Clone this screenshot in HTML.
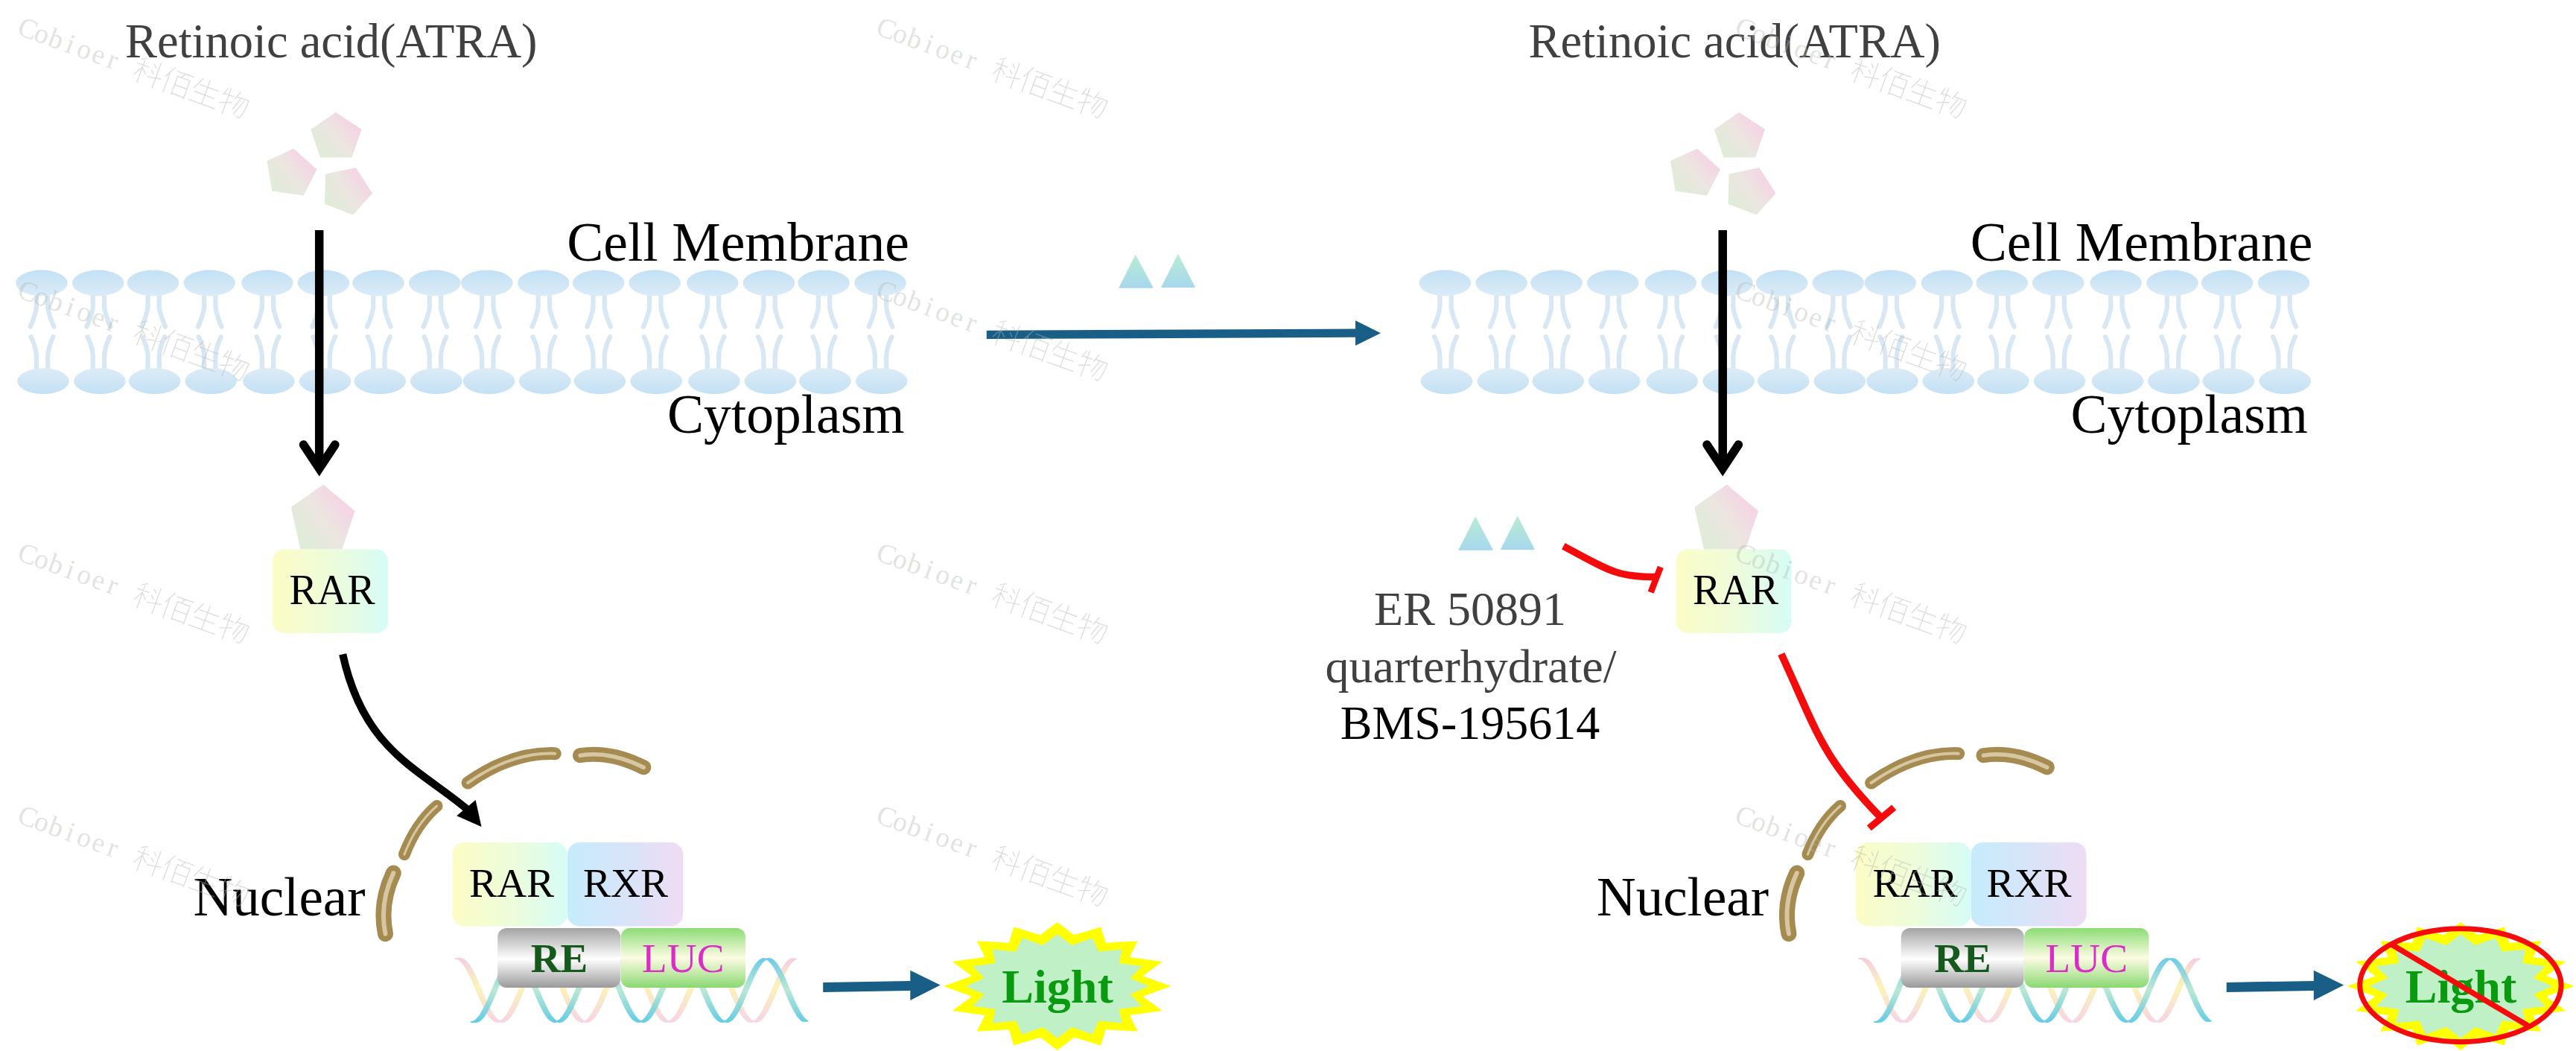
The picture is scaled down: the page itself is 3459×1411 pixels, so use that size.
<!DOCTYPE html>
<html><head><meta charset="utf-8"><style>
html,body{margin:0;padding:0;background:#fff;}
body{width:3459px;height:1411px;overflow:hidden;}
svg{display:block;}
</style></head><body>
<svg width="3459" height="1411" viewBox="0 0 3459 1411">
<defs>
<linearGradient id="gHeadTop" x1="0" y1="0" x2="0" y2="1"><stop offset="0" stop-color="#c3e1f4"/><stop offset="1" stop-color="#dcebf7"/></linearGradient>
<linearGradient id="gHeadBot" x1="0" y1="0" x2="0" y2="1"><stop offset="0" stop-color="#dcebf7"/><stop offset="1" stop-color="#c3e1f4"/></linearGradient>
<linearGradient id="gPent" x1="0" y1="0.85" x2="1" y2="0.15"><stop offset="0" stop-color="#ddeed6"/><stop offset="0.5" stop-color="#ece5e1"/><stop offset="1" stop-color="#f9cce6"/></linearGradient>
<linearGradient id="gTri" x1="0" y1="0" x2="0" y2="1"><stop offset="0" stop-color="#b9ecd2"/><stop offset="1" stop-color="#a6d8ee"/></linearGradient>
<linearGradient id="gRAR" x1="0" y1="0" x2="1" y2="0"><stop offset="0" stop-color="#fcfcc6"/><stop offset="0.5" stop-color="#eefcda"/><stop offset="1" stop-color="#d6fcf6"/></linearGradient>
<linearGradient id="gRXR" x1="0" y1="0" x2="1" y2="0"><stop offset="0" stop-color="#c6ecfc"/><stop offset="0.5" stop-color="#d8e4f8"/><stop offset="1" stop-color="#eedcf4"/></linearGradient>
<linearGradient id="gRE" x1="0" y1="0" x2="0" y2="1"><stop offset="0" stop-color="#a4a4a4"/><stop offset="0.52" stop-color="#ffffff"/><stop offset="1" stop-color="#9a9a9a"/></linearGradient>
<linearGradient id="gLUC" x1="0" y1="0" x2="0" y2="1"><stop offset="0" stop-color="#8cdc76"/><stop offset="0.5" stop-color="#fcfce2"/><stop offset="1" stop-color="#8ad872"/></linearGradient>
<linearGradient id="gDNA1" gradientUnits="userSpaceOnUse" x1="0" y1="1285" x2="0" y2="1373"><stop offset="0" stop-color="#f4c4de"/><stop offset="0.45" stop-color="#fbf2ac"/><stop offset="1" stop-color="#f6cce2"/></linearGradient>
<linearGradient id="gDNA2" gradientUnits="userSpaceOnUse" x1="0" y1="1285" x2="0" y2="1373"><stop offset="0" stop-color="#5cc4e8"/><stop offset="0.5" stop-color="#b4e6d0"/><stop offset="1" stop-color="#52c6e4"/></linearGradient>
<g id="panel"><text x="168" y="76.5" font-family="Liberation Serif" font-size="64.5" fill="#404040">Retinoic acid(ATRA)</text><polygon points="450.8,150.7 485.5,173.8 472.5,211.5 429.9,211.5 417.4,173.8" fill="url(#gPent)" /><polygon points="394.5,199.4 425.4,227.5 407.5,262.5 365.2,256.5 358.4,216.1" fill="url(#gPent)" /><polygon points="477.9,225.2 500,259.5 474.1,288.4 436,274 437.1,233.6" fill="url(#gPent)" /><path d="M48.9 397 L48.9 413 Q46.9 425 40.7 438.6 M64.2 397 L64.2 413 Q66.2 425 72.4 438.6 M41.6 452.2 Q47.9 465 48.9 477 L48.9 494.6 M71.5 452.2 Q65.2 465 64.2 477 L64.2 494.6 M124.8 397 L124.8 413 Q122.8 425 116.5 438.6 M140.1 397 L140.1 413 Q142.1 425 148.2 438.6 M117.5 452.2 Q123.8 465 124.8 477 L124.8 494.6 M147.4 452.2 Q141.1 465 140.1 477 L140.1 494.6 M198.5 397 L198.5 413 Q196.5 425 190.3 438.6 M213.8 397 L213.8 413 Q215.8 425 222 438.6 M191.2 452.2 Q197.5 465 198.5 477 L198.5 494.6 M221.2 452.2 Q214.8 465 213.8 477 L213.8 494.6 M274.2 397 L274.2 413 Q272.2 425 266 438.6 M289.4 397 L289.4 413 Q291.4 425 297.6 438.6 M266.9 452.2 Q273.2 465 274.2 477 L274.2 494.6 M296.8 452.2 Q290.4 465 289.4 477 L289.4 494.6 M351.8 397 L351.8 413 Q349.8 425 343.6 438.6 M367.1 397 L367.1 413 Q369.1 425 375.3 438.6 M344.5 452.2 Q350.8 465 351.8 477 L351.8 494.6 M374.4 452.2 Q368.1 465 367.1 477 L367.1 494.6 M427.5 397 L427.5 413 Q425.5 425 419.3 438.6 M442.8 397 L442.8 413 Q444.8 425 451 438.6 M420.2 452.2 Q426.5 465 427.5 477 L427.5 494.6 M450.1 452.2 Q443.8 465 442.8 477 L442.8 494.6 M501.2 397 L501.2 413 Q499.2 425 493 438.6 M516.5 397 L516.5 413 Q518.5 425 524.7 438.6 M493.9 452.2 Q500.2 465 501.2 477 L501.2 494.6 M523.8 452.2 Q517.5 465 516.5 477 L516.5 494.6 M576.8 397 L576.8 413 Q574.8 425 568.5 438.6 M592 397 L592 413 Q594 425 600.2 438.6 M569.5 452.2 Q575.8 465 576.8 477 L576.8 494.6 M599.3 452.2 Q593 465 592 477 L592 494.6 M647.1 397 L647.1 413 Q645.1 425 638.9 438.6 M662.4 397 L662.4 413 Q664.4 425 670.6 438.6 M639.8 452.2 Q646.1 465 647.1 477 L647.1 494.6 M669.7 452.2 Q663.4 465 662.4 477 L662.4 494.6 M722.7 397 L722.7 413 Q720.7 425 714.5 438.6 M738 397 L738 413 Q740 425 746.2 438.6 M715.4 452.2 Q721.7 465 722.7 477 L722.7 494.6 M745.3 452.2 Q739 465 738 477 L738 494.6 M796.5 397 L796.5 413 Q794.5 425 788.3 438.6 M811.8 397 L811.8 413 Q813.8 425 820 438.6 M789.2 452.2 Q795.5 465 796.5 477 L796.5 494.6 M819.1 452.2 Q812.8 465 811.8 477 L811.8 494.6 M872.1 397 L872.1 413 Q870.1 425 863.9 438.6 M887.4 397 L887.4 413 Q889.4 425 895.6 438.6 M864.8 452.2 Q871.1 465 872.1 477 L872.1 494.6 M894.7 452.2 Q888.4 465 887.4 477 L887.4 494.6 M949.8 397 L949.8 413 Q947.8 425 941.6 438.6 M965.1 397 L965.1 413 Q967.1 425 973.3 438.6 M942.5 452.2 Q948.8 465 949.8 477 L949.8 494.6 M972.4 452.2 Q966.1 465 965.1 477 L965.1 494.6 M1025.4 397 L1025.4 413 Q1023.4 425 1017.2 438.6 M1040.7 397 L1040.7 413 Q1042.7 425 1048.9 438.6 M1018.1 452.2 Q1024.4 465 1025.4 477 L1025.4 494.6 M1048 452.2 Q1041.7 465 1040.7 477 L1040.7 494.6 M1098.9 397 L1098.9 413 Q1096.9 425 1090.7 438.6 M1114.2 397 L1114.2 413 Q1116.2 425 1122.5 438.6 M1091.6 452.2 Q1097.9 465 1098.9 477 L1098.9 494.6 M1121.5 452.2 Q1115.2 465 1114.2 477 L1114.2 494.6 M1174.9 397 L1174.9 413 Q1172.9 425 1166.7 438.6 M1190.2 397 L1190.2 413 Q1192.2 425 1198.4 438.6 M1167.6 452.2 Q1173.9 465 1174.9 477 L1174.9 494.6 M1197.5 452.2 Q1191.2 465 1190.2 477 L1190.2 494.6" fill="none" stroke="#d8e7f4" stroke-width="6.2" stroke-linecap="round"/><ellipse cx="55.9" cy="380" rx="34.8" ry="17.4" fill="url(#gHeadTop)"/><ellipse cx="131.7" cy="380" rx="34.8" ry="17.4" fill="url(#gHeadTop)"/><ellipse cx="205.5" cy="380" rx="34.8" ry="17.4" fill="url(#gHeadTop)"/><ellipse cx="281.2" cy="380" rx="34.8" ry="17.4" fill="url(#gHeadTop)"/><ellipse cx="358.9" cy="380" rx="34.8" ry="17.4" fill="url(#gHeadTop)"/><ellipse cx="434.5" cy="380" rx="34.8" ry="17.4" fill="url(#gHeadTop)"/><ellipse cx="508.1" cy="380" rx="34.8" ry="17.4" fill="url(#gHeadTop)"/><ellipse cx="583.8" cy="380" rx="34.8" ry="17.4" fill="url(#gHeadTop)"/><ellipse cx="653.8" cy="380" rx="34.8" ry="17.4" fill="url(#gHeadTop)"/><ellipse cx="729.8" cy="380" rx="34.8" ry="17.4" fill="url(#gHeadTop)"/><ellipse cx="803.7" cy="380" rx="34.8" ry="17.4" fill="url(#gHeadTop)"/><ellipse cx="879.2" cy="380" rx="34.8" ry="17.4" fill="url(#gHeadTop)"/><ellipse cx="956.7" cy="380" rx="34.8" ry="17.4" fill="url(#gHeadTop)"/><ellipse cx="1032.5" cy="380" rx="34.8" ry="17.4" fill="url(#gHeadTop)"/><ellipse cx="1106.1" cy="380" rx="34.8" ry="17.4" fill="url(#gHeadTop)"/><ellipse cx="1182.1" cy="380" rx="34.8" ry="17.4" fill="url(#gHeadTop)"/><ellipse cx="58" cy="511.7" rx="34.8" ry="17.4" fill="url(#gHeadBot)"/><ellipse cx="133.9" cy="511.7" rx="34.8" ry="17.4" fill="url(#gHeadBot)"/><ellipse cx="207.7" cy="511.7" rx="34.8" ry="17.4" fill="url(#gHeadBot)"/><ellipse cx="283.2" cy="511.7" rx="34.8" ry="17.4" fill="url(#gHeadBot)"/><ellipse cx="360.8" cy="511.7" rx="34.8" ry="17.4" fill="url(#gHeadBot)"/><ellipse cx="436.6" cy="511.7" rx="34.8" ry="17.4" fill="url(#gHeadBot)"/><ellipse cx="510.3" cy="511.7" rx="34.8" ry="17.4" fill="url(#gHeadBot)"/><ellipse cx="585.8" cy="511.7" rx="34.8" ry="17.4" fill="url(#gHeadBot)"/><ellipse cx="656.5" cy="511.7" rx="34.8" ry="17.4" fill="url(#gHeadBot)"/><ellipse cx="731.7" cy="511.7" rx="34.8" ry="17.4" fill="url(#gHeadBot)"/><ellipse cx="805.4" cy="511.7" rx="34.8" ry="17.4" fill="url(#gHeadBot)"/><ellipse cx="881.1" cy="511.7" rx="34.8" ry="17.4" fill="url(#gHeadBot)"/><ellipse cx="959" cy="511.7" rx="34.8" ry="17.4" fill="url(#gHeadBot)"/><ellipse cx="1034.4" cy="511.7" rx="34.8" ry="17.4" fill="url(#gHeadBot)"/><ellipse cx="1107.9" cy="511.7" rx="34.8" ry="17.4" fill="url(#gHeadBot)"/><ellipse cx="1183.8" cy="511.7" rx="34.8" ry="17.4" fill="url(#gHeadBot)"/><text x="1221" y="350" text-anchor="end" font-family="Liberation Serif" font-size="73.6" fill="#000">Cell Membrane</text><text x="1214.5" y="581" text-anchor="end" font-family="Liberation Serif" font-size="73.5" fill="#000">Cytoplasm</text><path d="M428.7 309 L428.7 629" stroke="#000" stroke-width="11.5" fill="none"/><path d="M407.5 597 L428.7 629 L449.9 597" stroke="#000" stroke-width="11.5" fill="none" stroke-linecap="round" stroke-linejoin="miter"/><polygon points="434.2,650.6 476.5,686 459.4,737.4 403.4,737.4 390.8,680.7" fill="url(#gPent)" /><rect x="366" y="737.5" width="155" height="112.5" rx="16" fill="url(#gRAR)"/><text x="446" y="810.5" text-anchor="middle" font-family="Liberation Serif" font-size="56" fill="#000">RAR</text><path d="M628.1 1051 Q686.55 1009.65 745.2 1011.7" fill="none" stroke="#a68b51" stroke-width="17" stroke-linecap="round"/><path d="M779 1014.2 Q819.6 1007.75 864.3 1030.3" fill="none" stroke="#a68b51" stroke-width="20" stroke-linecap="round"/><path d="M586.6 1082 Q558.65 1106.05 542.9 1147.1" fill="none" stroke="#a68b51" stroke-width="16" stroke-linecap="round"/><path d="M528.3 1172 Q509.1 1213.15 517.5 1253.7" fill="none" stroke="#a68b51" stroke-width="21" stroke-linecap="round"/><path d="M628.1 1051 Q686.55 1009.65 745.2 1011.7" fill="none" stroke="#d6c7a2" stroke-width="4" stroke-linecap="round"/><path d="M779 1014.2 Q819.6 1007.75 864.3 1030.3" fill="none" stroke="#d6c7a2" stroke-width="5.5" stroke-linecap="round"/><path d="M586.6 1082 Q558.65 1106.05 542.9 1147.1" fill="none" stroke="#d6c7a2" stroke-width="3" stroke-linecap="round"/><path d="M528.3 1172 Q509.1 1213.15 517.5 1253.7" fill="none" stroke="#d6c7a2" stroke-width="6" stroke-linecap="round"/><text x="490.5" y="1228.5" text-anchor="end" font-family="Liberation Serif" font-size="73" fill="#000">Nuclear</text><rect x="607.5" y="1131" width="154" height="112.5" rx="16" fill="url(#gRAR)"/><rect x="762" y="1131" width="155" height="112.5" rx="16" fill="url(#gRXR)"/><text x="687" y="1204" text-anchor="middle" font-family="Liberation Serif" font-size="55.5" fill="#000">RAR</text><text x="840" y="1204" text-anchor="middle" font-family="Liberation Serif" font-size="55.5" fill="#000">RXR</text><polygon points="611.5,1287 613,1287.1 614.5,1287.6 616,1288.3 617.5,1289.3 619,1290.6 620.5,1292.2 622,1294 623.5,1296.1 625,1298.3 626.5,1300.9 628,1303.6 629.5,1306.4 631,1309.5 632.5,1312.7 634,1316 635.5,1319.4 637,1322.8 638.5,1326.3 640,1329.9 641.5,1333.4 643,1336.9 644.5,1340.3 646,1343.7 647.5,1347 649,1350.1 650.5,1353.1 652,1356 653.5,1358.7 655,1361.1 656.5,1363.4 658,1365.4 659.5,1367.2 661,1368.7 662.5,1369.9 664,1370.9 665.5,1371.5 667,1371.9 668.5,1372 670,1371.8 671.5,1371.3 673,1370.5 674.5,1369.4 676,1368.1 677.5,1366.5 679,1364.6 680.5,1362.5 682,1360.2 683.5,1357.6 685,1354.9 686.5,1352 688,1348.9 689.5,1345.7 691,1342.4 692.5,1339 694,1335.5 695.5,1332 697,1328.4 698.5,1324.9 700,1321.4 701.5,1318 703,1314.6 704.5,1311.4 706,1308.2 707.5,1305.3 709,1302.5 710.5,1299.8 712,1297.4 713.5,1295.2 715,1293.2 716.5,1291.5 718,1290.1 719.5,1288.9 721,1288 722.5,1287.4 724,1287.1 725.5,1287 727,1287.3 728.5,1287.8 730,1288.7 731.5,1289.8 733,1291.2 734.5,1292.9 736,1294.8 737.5,1296.9 739,1299.3 740.5,1301.9 742,1304.7 743.5,1307.6 745,1310.7 746.5,1314 748,1317.3 749.5,1320.7 751,1324.2 752.5,1327.7 754,1331.3 755.5,1334.8 757,1338.3 758.5,1341.7 760,1345 761.5,1348.3 763,1351.4 764.5,1354.3 766,1357.1 767.5,1359.7 769,1362.1 770.5,1364.2 772,1366.1 773.5,1367.8 775,1369.2 776.5,1370.3 778,1371.2 779.5,1371.7 781,1372 782.5,1371.9 784,1371.6 785.5,1371 787,1370.1 788.5,1368.9 790,1367.5 791.5,1365.8 793,1363.8 794.5,1361.6 796,1359.2 797.5,1356.5 799,1353.7 800.5,1350.8 802,1347.6 803.5,1344.4 805,1341 806.5,1337.6 808,1334.1 809.5,1330.6 811,1327 812.5,1323.5 814,1320 815.5,1316.6 817,1313.3 818.5,1310.1 820,1307 821.5,1304.1 823,1301.4 824.5,1298.8 826,1296.5 827.5,1294.4 829,1292.5 830.5,1290.9 832,1289.6 833.5,1288.5 835,1287.7 836.5,1287.2 838,1287 839.5,1287.1 841,1287.5 842.5,1288.1 844,1289.1 845.5,1290.3 847,1291.8 848.5,1293.6 850,1295.6 851.5,1297.9 853,1300.3 854.5,1303 856,1305.9 857.5,1308.9 859,1312 860.5,1315.3 862,1318.7 863.5,1322.1 865,1325.6 866.5,1329.1 868,1332.7 869.5,1336.2 871,1339.6 872.5,1343 874,1346.3 875.5,1349.5 877,1352.6 878.5,1355.4 880,1358.1 881.5,1360.7 883,1362.9 884.5,1365 886,1366.8 887.5,1368.4 889,1369.7 890.5,1370.7 892,1371.4 893.5,1371.9 895,1372 896.5,1371.9 898,1371.4 899.5,1370.7 901,1369.7 902.5,1368.4 904,1366.8 905.5,1365 907,1362.9 908.5,1360.7 910,1358.1 911.5,1355.4 913,1352.6 914.5,1349.5 916,1346.3 917.5,1343 919,1339.6 920.5,1336.2 922,1332.7 923.5,1329.1 925,1325.6 926.5,1322.1 928,1318.7 929.5,1315.3 931,1312 932.5,1308.9 934,1305.9 935.5,1303 937,1300.3 938.5,1297.9 940,1295.6 941.5,1293.6 943,1291.8 944.5,1290.3 946,1289.1 947.5,1288.1 949,1287.5 950.5,1287.1 952,1287 953.5,1287.2 955,1287.7 956.5,1288.5 958,1289.6 959.5,1290.9 961,1292.5 962.5,1294.4 964,1296.5 965.5,1298.8 967,1301.4 968.5,1304.1 970,1307 971.5,1310.1 973,1313.3 974.5,1316.6 976,1320 977.5,1323.5 979,1327 980.5,1330.6 982,1334.1 983.5,1337.6 985,1341 986.5,1344.4 988,1347.6 989.5,1350.8 991,1353.7 992.5,1356.5 994,1359.2 995.5,1361.6 997,1363.8 998.5,1365.8 1000,1367.5 1001.5,1368.9 1003,1370.1 1004.5,1371 1006,1371.6 1007.5,1371.9 1009,1372 1010.5,1371.7 1012,1371.2 1013.5,1370.3 1015,1369.2 1016.5,1367.8 1018,1366.1 1019.5,1364.2 1021,1362.1 1022.5,1359.7 1024,1357.1 1025.5,1354.3 1027,1351.4 1028.5,1348.3 1030,1345 1031.5,1341.7 1033,1338.3 1034.5,1334.8 1036,1331.3 1037.5,1327.7 1039,1324.2 1040.5,1320.7 1042,1317.3 1043.5,1314 1045,1310.7 1046.5,1307.6 1048,1304.7 1049.5,1301.9 1051,1299.3 1052.5,1296.9 1054,1294.8 1055.5,1292.9 1057,1291.2 1058.5,1289.8 1060,1288.7 1061.5,1287.8 1063,1287.3 1069.5,1287.3 1068,1287.8 1066.5,1288.7 1065,1289.8 1063.5,1291.2 1062,1292.9 1060.5,1294.8 1059,1296.9 1057.5,1299.3 1056,1301.9 1054.5,1304.7 1053,1307.6 1051.5,1310.7 1050,1314 1048.5,1317.3 1047,1320.7 1045.5,1324.2 1044,1327.7 1042.5,1331.3 1041,1334.8 1039.5,1338.3 1038,1341.7 1036.5,1345 1035,1348.3 1033.5,1351.4 1032,1354.3 1030.5,1357.1 1029,1359.7 1027.5,1362.1 1026,1364.2 1024.5,1366.1 1023,1367.8 1021.5,1369.2 1020,1370.3 1018.5,1371.2 1017,1371.7 1015.5,1372 1014,1371.9 1012.5,1371.6 1011,1371 1009.5,1370.1 1008,1368.9 1006.5,1367.5 1005,1365.8 1003.5,1363.8 1002,1361.6 1000.5,1359.2 999,1356.5 997.5,1353.7 996,1350.8 994.5,1347.6 993,1344.4 991.5,1341 990,1337.6 988.5,1334.1 987,1330.6 985.5,1327 984,1323.5 982.5,1320 981,1316.6 979.5,1313.3 978,1310.1 976.5,1307 975,1304.1 973.5,1301.4 972,1298.8 970.5,1296.5 969,1294.4 967.5,1292.5 966,1290.9 964.5,1289.6 963,1288.5 961.5,1287.7 960,1287.2 958.5,1287 957,1287.1 955.5,1287.5 954,1288.1 952.5,1289.1 951,1290.3 949.5,1291.8 948,1293.6 946.5,1295.6 945,1297.9 943.5,1300.3 942,1303 940.5,1305.9 939,1308.9 937.5,1312 936,1315.3 934.5,1318.7 933,1322.1 931.5,1325.6 930,1329.1 928.5,1332.7 927,1336.2 925.5,1339.6 924,1343 922.5,1346.3 921,1349.5 919.5,1352.6 918,1355.4 916.5,1358.1 915,1360.7 913.5,1362.9 912,1365 910.5,1366.8 909,1368.4 907.5,1369.7 906,1370.7 904.5,1371.4 903,1371.9 901.5,1372 900,1371.9 898.5,1371.4 897,1370.7 895.5,1369.7 894,1368.4 892.5,1366.8 891,1365 889.5,1362.9 888,1360.7 886.5,1358.1 885,1355.4 883.5,1352.6 882,1349.5 880.5,1346.3 879,1343 877.5,1339.6 876,1336.2 874.5,1332.7 873,1329.1 871.5,1325.6 870,1322.1 868.5,1318.7 867,1315.3 865.5,1312 864,1308.9 862.5,1305.9 861,1303 859.5,1300.3 858,1297.9 856.5,1295.6 855,1293.6 853.5,1291.8 852,1290.3 850.5,1289.1 849,1288.1 847.5,1287.5 846,1287.1 844.5,1287 843,1287.2 841.5,1287.7 840,1288.5 838.5,1289.6 837,1290.9 835.5,1292.5 834,1294.4 832.5,1296.5 831,1298.8 829.5,1301.4 828,1304.1 826.5,1307 825,1310.1 823.5,1313.3 822,1316.6 820.5,1320 819,1323.5 817.5,1327 816,1330.6 814.5,1334.1 813,1337.6 811.5,1341 810,1344.4 808.5,1347.6 807,1350.8 805.5,1353.7 804,1356.5 802.5,1359.2 801,1361.6 799.5,1363.8 798,1365.8 796.5,1367.5 795,1368.9 793.5,1370.1 792,1371 790.5,1371.6 789,1371.9 787.5,1372 786,1371.7 784.5,1371.2 783,1370.3 781.5,1369.2 780,1367.8 778.5,1366.1 777,1364.2 775.5,1362.1 774,1359.7 772.5,1357.1 771,1354.3 769.5,1351.4 768,1348.3 766.5,1345 765,1341.7 763.5,1338.3 762,1334.8 760.5,1331.3 759,1327.7 757.5,1324.2 756,1320.7 754.5,1317.3 753,1314 751.5,1310.7 750,1307.6 748.5,1304.7 747,1301.9 745.5,1299.3 744,1296.9 742.5,1294.8 741,1292.9 739.5,1291.2 738,1289.8 736.5,1288.7 735,1287.8 733.5,1287.3 732,1287 730.5,1287.1 729,1287.4 727.5,1288 726,1288.9 724.5,1290.1 723,1291.5 721.5,1293.2 720,1295.2 718.5,1297.4 717,1299.8 715.5,1302.5 714,1305.3 712.5,1308.2 711,1311.4 709.5,1314.6 708,1318 706.5,1321.4 705,1324.9 703.5,1328.4 702,1332 700.5,1335.5 699,1339 697.5,1342.4 696,1345.7 694.5,1348.9 693,1352 691.5,1354.9 690,1357.6 688.5,1360.2 687,1362.5 685.5,1364.6 684,1366.5 682.5,1368.1 681,1369.4 679.5,1370.5 678,1371.3 676.5,1371.8 675,1372 673.5,1371.9 672,1371.5 670.5,1370.9 669,1369.9 667.5,1368.7 666,1367.2 664.5,1365.4 663,1363.4 661.5,1361.1 660,1358.7 658.5,1356 657,1353.1 655.5,1350.1 654,1347 652.5,1343.7 651,1340.3 649.5,1336.9 648,1333.4 646.5,1329.9 645,1326.3 643.5,1322.8 642,1319.4 640.5,1316 639,1312.7 637.5,1309.5 636,1306.4 634.5,1303.6 633,1300.9 631.5,1298.3 630,1296.1 628.5,1294 627,1292.2 625.5,1290.6 624,1289.3 622.5,1288.3 621,1287.6 619.5,1287.1 618,1287" fill="url(#gDNA1)" stroke="url(#gDNA1)" stroke-width="1.8" stroke-linejoin="round" opacity="0.85"/><polygon points="632.5,1372 634,1371.9 635.5,1371.4 637,1370.7 638.5,1369.6 640,1368.3 641.5,1366.7 643,1364.9 644.5,1362.8 646,1360.5 647.5,1357.9 649,1355.2 650.5,1352.2 652,1349.2 653.5,1345.9 655,1342.6 656.5,1339.2 658,1335.7 659.5,1332.1 661,1328.5 662.5,1325 664,1321.5 665.5,1318 667,1314.6 668.5,1311.3 670,1308.2 671.5,1305.2 673,1302.3 674.5,1299.7 676,1297.3 677.5,1295.1 679,1293.1 680.5,1291.4 682,1289.9 683.5,1288.8 685,1287.9 686.5,1287.3 688,1287 689.5,1287 691,1287.4 692.5,1288 694,1288.9 695.5,1290 697,1291.5 698.5,1293.2 700,1295.2 701.5,1297.4 703,1299.9 704.5,1302.5 706,1305.4 707.5,1308.4 709,1311.6 710.5,1314.8 712,1318.2 713.5,1321.7 715,1325.2 716.5,1328.8 718,1332.3 719.5,1335.9 721,1339.4 722.5,1342.8 724,1346.1 725.5,1349.4 727,1352.4 728.5,1355.4 730,1358.1 731.5,1360.6 733,1362.9 734.5,1365 736,1366.8 737.5,1368.4 739,1369.7 740.5,1370.7 742,1371.4 743.5,1371.9 745,1372 746.5,1371.8 748,1371.4 749.5,1370.6 751,1369.6 752.5,1368.2 754,1366.6 755.5,1364.8 757,1362.6 758.5,1360.3 760,1357.7 761.5,1355 763,1352 764.5,1348.9 766,1345.7 767.5,1342.4 769,1338.9 770.5,1335.4 772,1331.9 773.5,1328.3 775,1324.8 776.5,1321.2 778,1317.8 779.5,1314.4 781,1311.1 782.5,1308 784,1305 785.5,1302.2 787,1299.5 788.5,1297.1 790,1294.9 791.5,1293 793,1291.3 794.5,1289.9 796,1288.7 797.5,1287.9 799,1287.3 800.5,1287 802,1287.1 803.5,1287.4 805,1288 806.5,1288.9 808,1290.1 809.5,1291.6 811,1293.3 812.5,1295.3 814,1297.6 815.5,1300 817,1302.7 818.5,1305.6 820,1308.6 821.5,1311.8 823,1315.1 824.5,1318.5 826,1321.9 827.5,1325.5 829,1329 830.5,1332.6 832,1336.1 833.5,1339.6 835,1343 836.5,1346.4 838,1349.6 839.5,1352.6 841,1355.5 842.5,1358.3 844,1360.8 845.5,1363.1 847,1365.1 848.5,1367 850,1368.5 851.5,1369.8 853,1370.8 854.5,1371.5 856,1371.9 857.5,1372 859,1371.8 860.5,1371.3 862,1370.5 863.5,1369.5 865,1368.1 866.5,1366.5 868,1364.6 869.5,1362.5 871,1360.1 872.5,1357.6 874,1354.8 875.5,1351.8 877,1348.7 878.5,1345.5 880,1342.1 881.5,1338.7 883,1335.2 884.5,1331.6 886,1328.1 887.5,1324.5 889,1321 890.5,1317.5 892,1314.2 893.5,1310.9 895,1307.8 896.5,1304.8 898,1302 899.5,1299.4 901,1297 902.5,1294.8 904,1292.9 905.5,1291.2 907,1289.8 908.5,1288.6 910,1287.8 911.5,1287.3 913,1287 914.5,1287.1 916,1287.4 917.5,1288.1 919,1289 920.5,1290.2 922,1291.7 923.5,1293.5 925,1295.5 926.5,1297.7 928,1300.2 929.5,1302.9 931,1305.8 932.5,1308.8 934,1312 935.5,1315.3 937,1318.7 938.5,1322.2 940,1325.7 941.5,1329.3 943,1332.8 944.5,1336.4 946,1339.8 947.5,1343.3 949,1346.6 950.5,1349.8 952,1352.8 953.5,1355.7 955,1358.4 956.5,1360.9 958,1363.2 959.5,1365.3 961,1367.1 962.5,1368.6 964,1369.9 965.5,1370.8 967,1371.5 968.5,1371.9 970,1372 971.5,1371.8 973,1371.3 974.5,1370.5 976,1369.4 977.5,1368 979,1366.4 980.5,1364.5 982,1362.3 983.5,1360 985,1357.4 986.5,1354.6 988,1351.6 989.5,1348.5 991,1345.3 992.5,1341.9 994,1338.5 995.5,1334.9 997,1331.4 998.5,1327.8 1000,1324.3 1001.5,1320.8 1003,1317.3 1004.5,1314 1006,1310.7 1007.5,1307.6 1009,1304.6 1010.5,1301.8 1012,1299.2 1013.5,1296.8 1015,1294.6 1016.5,1292.7 1018,1291.1 1019.5,1289.7 1021,1288.6 1022.5,1287.8 1024,1287.2 1025.5,1287 1027,1287.1 1028.5,1287.4 1030,1288.1 1031.5,1289.1 1033,1290.3 1034.5,1291.8 1036,1293.6 1037.5,1295.6 1039,1297.9 1040.5,1300.4 1042,1303.1 1043.5,1306 1045,1309 1046.5,1312.2 1048,1315.5 1049.5,1318.9 1051,1322.4 1052.5,1325.9 1054,1329.5 1055.5,1333.1 1057,1336.6 1058.5,1340.1 1060,1343.5 1061.5,1346.8 1063,1350 1064.5,1353 1066,1355.9 1067.5,1358.6 1069,1361.1 1070.5,1363.4 1072,1365.4 1073.5,1367.2 1075,1368.7 1076.5,1369.9 1078,1370.9 1084.5,1370.9 1083,1369.9 1081.5,1368.7 1080,1367.2 1078.5,1365.4 1077,1363.4 1075.5,1361.1 1074,1358.6 1072.5,1355.9 1071,1353 1069.5,1350 1068,1346.8 1066.5,1343.5 1065,1340.1 1063.5,1336.6 1062,1333.1 1060.5,1329.5 1059,1325.9 1057.5,1322.4 1056,1318.9 1054.5,1315.5 1053,1312.2 1051.5,1309 1050,1306 1048.5,1303.1 1047,1300.4 1045.5,1297.9 1044,1295.6 1042.5,1293.6 1041,1291.8 1039.5,1290.3 1038,1289.1 1036.5,1288.1 1035,1287.4 1033.5,1287.1 1032,1287 1030.5,1287.2 1029,1287.8 1027.5,1288.6 1026,1289.7 1024.5,1291.1 1023,1292.7 1021.5,1294.6 1020,1296.8 1018.5,1299.2 1017,1301.8 1015.5,1304.6 1014,1307.6 1012.5,1310.7 1011,1314 1009.5,1317.3 1008,1320.8 1006.5,1324.3 1005,1327.8 1003.5,1331.4 1002,1334.9 1000.5,1338.5 999,1341.9 997.5,1345.3 996,1348.5 994.5,1351.6 993,1354.6 991.5,1357.4 990,1360 988.5,1362.3 987,1364.5 985.5,1366.4 984,1368 982.5,1369.4 981,1370.5 979.5,1371.3 978,1371.8 976.5,1372 975,1371.9 973.5,1371.5 972,1370.8 970.5,1369.9 969,1368.6 967.5,1367.1 966,1365.3 964.5,1363.2 963,1360.9 961.5,1358.4 960,1355.7 958.5,1352.8 957,1349.8 955.5,1346.6 954,1343.3 952.5,1339.8 951,1336.4 949.5,1332.8 948,1329.3 946.5,1325.7 945,1322.2 943.5,1318.7 942,1315.3 940.5,1312 939,1308.8 937.5,1305.8 936,1302.9 934.5,1300.2 933,1297.7 931.5,1295.5 930,1293.5 928.5,1291.7 927,1290.2 925.5,1289 924,1288.1 922.5,1287.4 921,1287.1 919.5,1287 918,1287.3 916.5,1287.8 915,1288.6 913.5,1289.8 912,1291.2 910.5,1292.9 909,1294.8 907.5,1297 906,1299.4 904.5,1302 903,1304.8 901.5,1307.8 900,1310.9 898.5,1314.2 897,1317.5 895.5,1321 894,1324.5 892.5,1328.1 891,1331.6 889.5,1335.2 888,1338.7 886.5,1342.1 885,1345.5 883.5,1348.7 882,1351.8 880.5,1354.8 879,1357.6 877.5,1360.1 876,1362.5 874.5,1364.6 873,1366.5 871.5,1368.1 870,1369.5 868.5,1370.5 867,1371.3 865.5,1371.8 864,1372 862.5,1371.9 861,1371.5 859.5,1370.8 858,1369.8 856.5,1368.5 855,1367 853.5,1365.1 852,1363.1 850.5,1360.8 849,1358.3 847.5,1355.5 846,1352.6 844.5,1349.6 843,1346.4 841.5,1343 840,1339.6 838.5,1336.1 837,1332.6 835.5,1329 834,1325.5 832.5,1321.9 831,1318.5 829.5,1315.1 828,1311.8 826.5,1308.6 825,1305.6 823.5,1302.7 822,1300 820.5,1297.6 819,1295.3 817.5,1293.3 816,1291.6 814.5,1290.1 813,1288.9 811.5,1288 810,1287.4 808.5,1287.1 807,1287 805.5,1287.3 804,1287.9 802.5,1288.7 801,1289.9 799.5,1291.3 798,1293 796.5,1294.9 795,1297.1 793.5,1299.5 792,1302.2 790.5,1305 789,1308 787.5,1311.1 786,1314.4 784.5,1317.8 783,1321.2 781.5,1324.8 780,1328.3 778.5,1331.9 777,1335.4 775.5,1338.9 774,1342.4 772.5,1345.7 771,1348.9 769.5,1352 768,1355 766.5,1357.7 765,1360.3 763.5,1362.6 762,1364.8 760.5,1366.6 759,1368.2 757.5,1369.6 756,1370.6 754.5,1371.4 753,1371.8 751.5,1372 750,1371.9 748.5,1371.4 747,1370.7 745.5,1369.7 744,1368.4 742.5,1366.8 741,1365 739.5,1362.9 738,1360.6 736.5,1358.1 735,1355.4 733.5,1352.4 732,1349.4 730.5,1346.1 729,1342.8 727.5,1339.4 726,1335.9 724.5,1332.3 723,1328.8 721.5,1325.2 720,1321.7 718.5,1318.2 717,1314.8 715.5,1311.6 714,1308.4 712.5,1305.4 711,1302.5 709.5,1299.9 708,1297.4 706.5,1295.2 705,1293.2 703.5,1291.5 702,1290 700.5,1288.9 699,1288 697.5,1287.4 696,1287 694.5,1287 693,1287.3 691.5,1287.9 690,1288.8 688.5,1289.9 687,1291.4 685.5,1293.1 684,1295.1 682.5,1297.3 681,1299.7 679.5,1302.3 678,1305.2 676.5,1308.2 675,1311.3 673.5,1314.6 672,1318 670.5,1321.5 669,1325 667.5,1328.5 666,1332.1 664.5,1335.7 663,1339.2 661.5,1342.6 660,1345.9 658.5,1349.2 657,1352.2 655.5,1355.2 654,1357.9 652.5,1360.5 651,1362.8 649.5,1364.9 648,1366.7 646.5,1368.3 645,1369.6 643.5,1370.7 642,1371.4 640.5,1371.9 639,1372" fill="url(#gDNA2)" stroke="url(#gDNA2)" stroke-width="1.8" stroke-linejoin="round" opacity="0.9"/><rect x="668.2" y="1246.1" width="165" height="79.8" rx="12" fill="url(#gRE)"/><rect x="833.6" y="1246.1" width="167.4" height="79.8" rx="12" fill="url(#gLUC)"/><text x="751" y="1305" text-anchor="middle" font-family="Liberation Serif" font-weight="bold" font-size="55" fill="#155a1c">RE</text><text x="917.3" y="1305" text-anchor="middle" font-family="Liberation Serif" font-size="55.2" fill="#dc2cc8">LUC</text><polygon points="1105.2,1318.9 1222.3,1316.9 1222.3,1302.8 1262.7,1322.5 1222.3,1343.1 1222.3,1330 1105.2,1332" fill="#195e86" /><polygon points="1419.7,1238.1 1396.9,1255.3 1361.3,1244.6 1354.7,1265.8 1311.8,1263.3 1322.4,1285.1 1278.7,1291.1 1304.9,1310.3 1267.1,1324 1304.9,1337.7 1278.7,1356.9 1322.4,1362.9 1311.8,1384.7 1354.7,1382.2 1361.3,1403.4 1396.9,1392.7 1419.7,1409.9 1442.5,1392.7 1478.1,1403.4 1484.7,1382.2 1527.6,1384.7 1517,1362.9 1560.7,1356.9 1534.5,1337.7 1572.3,1324 1534.5,1310.3 1560.7,1291.1 1517,1285.1 1527.6,1263.3 1484.7,1265.8 1478.1,1244.6 1442.5,1255.3" fill="#ffff00" /><polygon points="1419.7,1254 1400.2,1269.1 1372.6,1259.3 1364.1,1277.4 1332.7,1274.5 1336.6,1292.9 1306.1,1297.2 1321.6,1313.1 1296.7,1324 1321.6,1334.9 1306.1,1350.8 1336.6,1355.1 1332.7,1373.5 1364.1,1370.6 1372.6,1388.7 1400.2,1378.9 1419.7,1394 1439.2,1378.9 1466.8,1388.7 1475.3,1370.6 1506.7,1373.5 1502.8,1355.1 1533.3,1350.8 1517.8,1334.9 1542.7,1324 1517.8,1313.1 1533.3,1297.2 1502.8,1292.9 1506.7,1274.5 1475.3,1277.4 1466.8,1259.3 1439.2,1269.1" fill="#c0f0c6" /><text x="1420" y="1346.2" text-anchor="middle" font-family="Liberation Serif" font-weight="bold" font-size="64" fill="#0a9a10">Light</text></g></defs>
<rect width="3459" height="1411" fill="#fff"/>
<use href="#panel"/>
<use href="#panel" transform="translate(1884.5 0)"/>
<path d="M460.2 878.3 C488.6 1008.4 562.8 1031.7 628 1087" fill="none" stroke="#000" stroke-width="10.2"/>
<polygon points="646.5,1109.9 613.2,1095.2 638.6,1073.9" fill="#000" />
<polygon points="1524.7,341.8 1548.8,386.7 1502.2,386.7" fill="url(#gTri)" />
<polygon points="1581.9,340.7 1605.1,386 1559,386" fill="url(#gTri)" />
<polygon points="1324.8,443.8 1820,441.5 1820,430.3 1854,447.2 1820,464.1 1820,452.8 1324.8,455.1" fill="#195e86" />
<polygon points="1981.2,693.2 2005.1,738.8 1958.2,738.8" fill="url(#gTri)" />
<polygon points="2037.7,692.5 2061,738.1 2014.7,738.1" fill="url(#gTri)" />
<text x="1974" y="839" text-anchor="middle" font-family="Liberation Serif" font-size="64" fill="#404040">ER 50891</text>
<text x="1975" y="915.5" text-anchor="middle" font-family="Liberation Serif" font-size="64" fill="#404040">quarterhydrate/</text>
<text x="1974" y="992.2" text-anchor="middle" font-family="Liberation Serif" font-size="64" fill="#000">BMS-195614</text>
<path d="M2099.3 733.3 C2161.2 766 2170 774.6 2223.5 774.6" fill="none" stroke="#f40c0c" stroke-width="9.5"/>
<path d="M2229.8 761.2 L2216.6 795.3" fill="none" stroke="#f40c0c" stroke-width="8.5"/>
<path d="M2391.8 878 C2440.3 982.6 2444.6 1014.3 2525 1097" fill="none" stroke="#f40c0c" stroke-width="10"/>
<path d="M2543.2 1084 L2509.8 1111.8" fill="none" stroke="#f40c0c" stroke-width="9.3"/>
<ellipse cx="3303.9" cy="1322.7" rx="135.2" ry="76" fill="none" stroke="#f40c0c" stroke-width="7"/>
<path d="M3211.8 1268.4 L3395.9 1377.9" stroke="#f40c0c" stroke-width="7.5"/>
<g transform="translate(27.9 20.9) rotate(20)"><text x="2.6 26 46.2 70.6 86.8 108 130.3" y="25.5" font-family="Liberation Serif" font-size="37.5" fill="#b0b9b0" fill-opacity="0.4">Cobioer</text><path transform="translate(167.6 -7.4) scale(0.4)" d="M30 8 L12 18 M4 34 L44 34 M24 18 L24 96 M24 40 L6 72 M26 44 L42 60 M58 18 L68 28 M56 40 L66 50 M50 66 L96 58 M78 8 L78 96" fill="none" stroke="#b0b9b0" stroke-opacity="0.47" stroke-width="3.4" stroke-linecap="round"/><path transform="translate(208.2 -7.4) scale(0.4)" d="M26 6 L6 44 M16 30 L16 96 M38 14 L96 14 M66 14 L58 28 M44 30 L44 94 M44 30 L88 30 L88 94 M44 60 L88 60 M44 90 L88 90" fill="none" stroke="#b0b9b0" stroke-opacity="0.47" stroke-width="3.4" stroke-linecap="round"/><path transform="translate(248.8 -7.4) scale(0.4)" d="M26 8 L8 46 M22 30 L88 30 M50 6 L50 90 M14 58 L84 58 M4 90 L96 90" fill="none" stroke="#b0b9b0" stroke-opacity="0.47" stroke-width="3.4" stroke-linecap="round"/><path transform="translate(289.4 -7.4) scale(0.4)" d="M14 10 L6 34 M8 30 L40 30 M24 6 L24 96 M4 64 L42 50 M58 8 L48 34 M52 26 L94 26 Q92 84 80 92 L72 88 M66 30 L52 70 M80 32 L60 84" fill="none" stroke="#b0b9b0" stroke-opacity="0.47" stroke-width="3.4" stroke-linecap="round"/></g><g transform="translate(1180.8 20.9) rotate(20)"><text x="2.6 26 46.2 70.6 86.8 108 130.3" y="25.5" font-family="Liberation Serif" font-size="37.5" fill="#b0b9b0" fill-opacity="0.4">Cobioer</text><path transform="translate(167.6 -7.4) scale(0.4)" d="M30 8 L12 18 M4 34 L44 34 M24 18 L24 96 M24 40 L6 72 M26 44 L42 60 M58 18 L68 28 M56 40 L66 50 M50 66 L96 58 M78 8 L78 96" fill="none" stroke="#b0b9b0" stroke-opacity="0.47" stroke-width="3.4" stroke-linecap="round"/><path transform="translate(208.2 -7.4) scale(0.4)" d="M26 6 L6 44 M16 30 L16 96 M38 14 L96 14 M66 14 L58 28 M44 30 L44 94 M44 30 L88 30 L88 94 M44 60 L88 60 M44 90 L88 90" fill="none" stroke="#b0b9b0" stroke-opacity="0.47" stroke-width="3.4" stroke-linecap="round"/><path transform="translate(248.8 -7.4) scale(0.4)" d="M26 8 L8 46 M22 30 L88 30 M50 6 L50 90 M14 58 L84 58 M4 90 L96 90" fill="none" stroke="#b0b9b0" stroke-opacity="0.47" stroke-width="3.4" stroke-linecap="round"/><path transform="translate(289.4 -7.4) scale(0.4)" d="M14 10 L6 34 M8 30 L40 30 M24 6 L24 96 M4 64 L42 50 M58 8 L48 34 M52 26 L94 26 Q92 84 80 92 L72 88 M66 30 L52 70 M80 32 L60 84" fill="none" stroke="#b0b9b0" stroke-opacity="0.47" stroke-width="3.4" stroke-linecap="round"/></g><g transform="translate(2333.8 20.9) rotate(20)"><text x="2.6 26 46.2 70.6 86.8 108 130.3" y="25.5" font-family="Liberation Serif" font-size="37.5" fill="#b0b9b0" fill-opacity="0.4">Cobioer</text><path transform="translate(167.6 -7.4) scale(0.4)" d="M30 8 L12 18 M4 34 L44 34 M24 18 L24 96 M24 40 L6 72 M26 44 L42 60 M58 18 L68 28 M56 40 L66 50 M50 66 L96 58 M78 8 L78 96" fill="none" stroke="#b0b9b0" stroke-opacity="0.47" stroke-width="3.4" stroke-linecap="round"/><path transform="translate(208.2 -7.4) scale(0.4)" d="M26 6 L6 44 M16 30 L16 96 M38 14 L96 14 M66 14 L58 28 M44 30 L44 94 M44 30 L88 30 L88 94 M44 60 L88 60 M44 90 L88 90" fill="none" stroke="#b0b9b0" stroke-opacity="0.47" stroke-width="3.4" stroke-linecap="round"/><path transform="translate(248.8 -7.4) scale(0.4)" d="M26 8 L8 46 M22 30 L88 30 M50 6 L50 90 M14 58 L84 58 M4 90 L96 90" fill="none" stroke="#b0b9b0" stroke-opacity="0.47" stroke-width="3.4" stroke-linecap="round"/><path transform="translate(289.4 -7.4) scale(0.4)" d="M14 10 L6 34 M8 30 L40 30 M24 6 L24 96 M4 64 L42 50 M58 8 L48 34 M52 26 L94 26 Q92 84 80 92 L72 88 M66 30 L52 70 M80 32 L60 84" fill="none" stroke="#b0b9b0" stroke-opacity="0.47" stroke-width="3.4" stroke-linecap="round"/></g><g transform="translate(27.9 373.6) rotate(20)"><text x="2.6 26 46.2 70.6 86.8 108 130.3" y="25.5" font-family="Liberation Serif" font-size="37.5" fill="#b0b9b0" fill-opacity="0.4">Cobioer</text><path transform="translate(167.6 -7.4) scale(0.4)" d="M30 8 L12 18 M4 34 L44 34 M24 18 L24 96 M24 40 L6 72 M26 44 L42 60 M58 18 L68 28 M56 40 L66 50 M50 66 L96 58 M78 8 L78 96" fill="none" stroke="#b0b9b0" stroke-opacity="0.47" stroke-width="3.4" stroke-linecap="round"/><path transform="translate(208.2 -7.4) scale(0.4)" d="M26 6 L6 44 M16 30 L16 96 M38 14 L96 14 M66 14 L58 28 M44 30 L44 94 M44 30 L88 30 L88 94 M44 60 L88 60 M44 90 L88 90" fill="none" stroke="#b0b9b0" stroke-opacity="0.47" stroke-width="3.4" stroke-linecap="round"/><path transform="translate(248.8 -7.4) scale(0.4)" d="M26 8 L8 46 M22 30 L88 30 M50 6 L50 90 M14 58 L84 58 M4 90 L96 90" fill="none" stroke="#b0b9b0" stroke-opacity="0.47" stroke-width="3.4" stroke-linecap="round"/><path transform="translate(289.4 -7.4) scale(0.4)" d="M14 10 L6 34 M8 30 L40 30 M24 6 L24 96 M4 64 L42 50 M58 8 L48 34 M52 26 L94 26 Q92 84 80 92 L72 88 M66 30 L52 70 M80 32 L60 84" fill="none" stroke="#b0b9b0" stroke-opacity="0.47" stroke-width="3.4" stroke-linecap="round"/></g><g transform="translate(1180.8 373.6) rotate(20)"><text x="2.6 26 46.2 70.6 86.8 108 130.3" y="25.5" font-family="Liberation Serif" font-size="37.5" fill="#b0b9b0" fill-opacity="0.4">Cobioer</text><path transform="translate(167.6 -7.4) scale(0.4)" d="M30 8 L12 18 M4 34 L44 34 M24 18 L24 96 M24 40 L6 72 M26 44 L42 60 M58 18 L68 28 M56 40 L66 50 M50 66 L96 58 M78 8 L78 96" fill="none" stroke="#b0b9b0" stroke-opacity="0.47" stroke-width="3.4" stroke-linecap="round"/><path transform="translate(208.2 -7.4) scale(0.4)" d="M26 6 L6 44 M16 30 L16 96 M38 14 L96 14 M66 14 L58 28 M44 30 L44 94 M44 30 L88 30 L88 94 M44 60 L88 60 M44 90 L88 90" fill="none" stroke="#b0b9b0" stroke-opacity="0.47" stroke-width="3.4" stroke-linecap="round"/><path transform="translate(248.8 -7.4) scale(0.4)" d="M26 8 L8 46 M22 30 L88 30 M50 6 L50 90 M14 58 L84 58 M4 90 L96 90" fill="none" stroke="#b0b9b0" stroke-opacity="0.47" stroke-width="3.4" stroke-linecap="round"/><path transform="translate(289.4 -7.4) scale(0.4)" d="M14 10 L6 34 M8 30 L40 30 M24 6 L24 96 M4 64 L42 50 M58 8 L48 34 M52 26 L94 26 Q92 84 80 92 L72 88 M66 30 L52 70 M80 32 L60 84" fill="none" stroke="#b0b9b0" stroke-opacity="0.47" stroke-width="3.4" stroke-linecap="round"/></g><g transform="translate(2333.8 373.6) rotate(20)"><text x="2.6 26 46.2 70.6 86.8 108 130.3" y="25.5" font-family="Liberation Serif" font-size="37.5" fill="#b0b9b0" fill-opacity="0.4">Cobioer</text><path transform="translate(167.6 -7.4) scale(0.4)" d="M30 8 L12 18 M4 34 L44 34 M24 18 L24 96 M24 40 L6 72 M26 44 L42 60 M58 18 L68 28 M56 40 L66 50 M50 66 L96 58 M78 8 L78 96" fill="none" stroke="#b0b9b0" stroke-opacity="0.47" stroke-width="3.4" stroke-linecap="round"/><path transform="translate(208.2 -7.4) scale(0.4)" d="M26 6 L6 44 M16 30 L16 96 M38 14 L96 14 M66 14 L58 28 M44 30 L44 94 M44 30 L88 30 L88 94 M44 60 L88 60 M44 90 L88 90" fill="none" stroke="#b0b9b0" stroke-opacity="0.47" stroke-width="3.4" stroke-linecap="round"/><path transform="translate(248.8 -7.4) scale(0.4)" d="M26 8 L8 46 M22 30 L88 30 M50 6 L50 90 M14 58 L84 58 M4 90 L96 90" fill="none" stroke="#b0b9b0" stroke-opacity="0.47" stroke-width="3.4" stroke-linecap="round"/><path transform="translate(289.4 -7.4) scale(0.4)" d="M14 10 L6 34 M8 30 L40 30 M24 6 L24 96 M4 64 L42 50 M58 8 L48 34 M52 26 L94 26 Q92 84 80 92 L72 88 M66 30 L52 70 M80 32 L60 84" fill="none" stroke="#b0b9b0" stroke-opacity="0.47" stroke-width="3.4" stroke-linecap="round"/></g><g transform="translate(27.9 726.3) rotate(20)"><text x="2.6 26 46.2 70.6 86.8 108 130.3" y="25.5" font-family="Liberation Serif" font-size="37.5" fill="#b0b9b0" fill-opacity="0.4">Cobioer</text><path transform="translate(167.6 -7.4) scale(0.4)" d="M30 8 L12 18 M4 34 L44 34 M24 18 L24 96 M24 40 L6 72 M26 44 L42 60 M58 18 L68 28 M56 40 L66 50 M50 66 L96 58 M78 8 L78 96" fill="none" stroke="#b0b9b0" stroke-opacity="0.47" stroke-width="3.4" stroke-linecap="round"/><path transform="translate(208.2 -7.4) scale(0.4)" d="M26 6 L6 44 M16 30 L16 96 M38 14 L96 14 M66 14 L58 28 M44 30 L44 94 M44 30 L88 30 L88 94 M44 60 L88 60 M44 90 L88 90" fill="none" stroke="#b0b9b0" stroke-opacity="0.47" stroke-width="3.4" stroke-linecap="round"/><path transform="translate(248.8 -7.4) scale(0.4)" d="M26 8 L8 46 M22 30 L88 30 M50 6 L50 90 M14 58 L84 58 M4 90 L96 90" fill="none" stroke="#b0b9b0" stroke-opacity="0.47" stroke-width="3.4" stroke-linecap="round"/><path transform="translate(289.4 -7.4) scale(0.4)" d="M14 10 L6 34 M8 30 L40 30 M24 6 L24 96 M4 64 L42 50 M58 8 L48 34 M52 26 L94 26 Q92 84 80 92 L72 88 M66 30 L52 70 M80 32 L60 84" fill="none" stroke="#b0b9b0" stroke-opacity="0.47" stroke-width="3.4" stroke-linecap="round"/></g><g transform="translate(1180.8 726.3) rotate(20)"><text x="2.6 26 46.2 70.6 86.8 108 130.3" y="25.5" font-family="Liberation Serif" font-size="37.5" fill="#b0b9b0" fill-opacity="0.4">Cobioer</text><path transform="translate(167.6 -7.4) scale(0.4)" d="M30 8 L12 18 M4 34 L44 34 M24 18 L24 96 M24 40 L6 72 M26 44 L42 60 M58 18 L68 28 M56 40 L66 50 M50 66 L96 58 M78 8 L78 96" fill="none" stroke="#b0b9b0" stroke-opacity="0.47" stroke-width="3.4" stroke-linecap="round"/><path transform="translate(208.2 -7.4) scale(0.4)" d="M26 6 L6 44 M16 30 L16 96 M38 14 L96 14 M66 14 L58 28 M44 30 L44 94 M44 30 L88 30 L88 94 M44 60 L88 60 M44 90 L88 90" fill="none" stroke="#b0b9b0" stroke-opacity="0.47" stroke-width="3.4" stroke-linecap="round"/><path transform="translate(248.8 -7.4) scale(0.4)" d="M26 8 L8 46 M22 30 L88 30 M50 6 L50 90 M14 58 L84 58 M4 90 L96 90" fill="none" stroke="#b0b9b0" stroke-opacity="0.47" stroke-width="3.4" stroke-linecap="round"/><path transform="translate(289.4 -7.4) scale(0.4)" d="M14 10 L6 34 M8 30 L40 30 M24 6 L24 96 M4 64 L42 50 M58 8 L48 34 M52 26 L94 26 Q92 84 80 92 L72 88 M66 30 L52 70 M80 32 L60 84" fill="none" stroke="#b0b9b0" stroke-opacity="0.47" stroke-width="3.4" stroke-linecap="round"/></g><g transform="translate(2333.8 726.3) rotate(20)"><text x="2.6 26 46.2 70.6 86.8 108 130.3" y="25.5" font-family="Liberation Serif" font-size="37.5" fill="#b0b9b0" fill-opacity="0.4">Cobioer</text><path transform="translate(167.6 -7.4) scale(0.4)" d="M30 8 L12 18 M4 34 L44 34 M24 18 L24 96 M24 40 L6 72 M26 44 L42 60 M58 18 L68 28 M56 40 L66 50 M50 66 L96 58 M78 8 L78 96" fill="none" stroke="#b0b9b0" stroke-opacity="0.47" stroke-width="3.4" stroke-linecap="round"/><path transform="translate(208.2 -7.4) scale(0.4)" d="M26 6 L6 44 M16 30 L16 96 M38 14 L96 14 M66 14 L58 28 M44 30 L44 94 M44 30 L88 30 L88 94 M44 60 L88 60 M44 90 L88 90" fill="none" stroke="#b0b9b0" stroke-opacity="0.47" stroke-width="3.4" stroke-linecap="round"/><path transform="translate(248.8 -7.4) scale(0.4)" d="M26 8 L8 46 M22 30 L88 30 M50 6 L50 90 M14 58 L84 58 M4 90 L96 90" fill="none" stroke="#b0b9b0" stroke-opacity="0.47" stroke-width="3.4" stroke-linecap="round"/><path transform="translate(289.4 -7.4) scale(0.4)" d="M14 10 L6 34 M8 30 L40 30 M24 6 L24 96 M4 64 L42 50 M58 8 L48 34 M52 26 L94 26 Q92 84 80 92 L72 88 M66 30 L52 70 M80 32 L60 84" fill="none" stroke="#b0b9b0" stroke-opacity="0.47" stroke-width="3.4" stroke-linecap="round"/></g><g transform="translate(27.9 1079) rotate(20)"><text x="2.6 26 46.2 70.6 86.8 108 130.3" y="25.5" font-family="Liberation Serif" font-size="37.5" fill="#b0b9b0" fill-opacity="0.4">Cobioer</text><path transform="translate(167.6 -7.4) scale(0.4)" d="M30 8 L12 18 M4 34 L44 34 M24 18 L24 96 M24 40 L6 72 M26 44 L42 60 M58 18 L68 28 M56 40 L66 50 M50 66 L96 58 M78 8 L78 96" fill="none" stroke="#b0b9b0" stroke-opacity="0.47" stroke-width="3.4" stroke-linecap="round"/><path transform="translate(208.2 -7.4) scale(0.4)" d="M26 6 L6 44 M16 30 L16 96 M38 14 L96 14 M66 14 L58 28 M44 30 L44 94 M44 30 L88 30 L88 94 M44 60 L88 60 M44 90 L88 90" fill="none" stroke="#b0b9b0" stroke-opacity="0.47" stroke-width="3.4" stroke-linecap="round"/><path transform="translate(248.8 -7.4) scale(0.4)" d="M26 8 L8 46 M22 30 L88 30 M50 6 L50 90 M14 58 L84 58 M4 90 L96 90" fill="none" stroke="#b0b9b0" stroke-opacity="0.47" stroke-width="3.4" stroke-linecap="round"/><path transform="translate(289.4 -7.4) scale(0.4)" d="M14 10 L6 34 M8 30 L40 30 M24 6 L24 96 M4 64 L42 50 M58 8 L48 34 M52 26 L94 26 Q92 84 80 92 L72 88 M66 30 L52 70 M80 32 L60 84" fill="none" stroke="#b0b9b0" stroke-opacity="0.47" stroke-width="3.4" stroke-linecap="round"/></g><g transform="translate(1180.8 1079) rotate(20)"><text x="2.6 26 46.2 70.6 86.8 108 130.3" y="25.5" font-family="Liberation Serif" font-size="37.5" fill="#b0b9b0" fill-opacity="0.4">Cobioer</text><path transform="translate(167.6 -7.4) scale(0.4)" d="M30 8 L12 18 M4 34 L44 34 M24 18 L24 96 M24 40 L6 72 M26 44 L42 60 M58 18 L68 28 M56 40 L66 50 M50 66 L96 58 M78 8 L78 96" fill="none" stroke="#b0b9b0" stroke-opacity="0.47" stroke-width="3.4" stroke-linecap="round"/><path transform="translate(208.2 -7.4) scale(0.4)" d="M26 6 L6 44 M16 30 L16 96 M38 14 L96 14 M66 14 L58 28 M44 30 L44 94 M44 30 L88 30 L88 94 M44 60 L88 60 M44 90 L88 90" fill="none" stroke="#b0b9b0" stroke-opacity="0.47" stroke-width="3.4" stroke-linecap="round"/><path transform="translate(248.8 -7.4) scale(0.4)" d="M26 8 L8 46 M22 30 L88 30 M50 6 L50 90 M14 58 L84 58 M4 90 L96 90" fill="none" stroke="#b0b9b0" stroke-opacity="0.47" stroke-width="3.4" stroke-linecap="round"/><path transform="translate(289.4 -7.4) scale(0.4)" d="M14 10 L6 34 M8 30 L40 30 M24 6 L24 96 M4 64 L42 50 M58 8 L48 34 M52 26 L94 26 Q92 84 80 92 L72 88 M66 30 L52 70 M80 32 L60 84" fill="none" stroke="#b0b9b0" stroke-opacity="0.47" stroke-width="3.4" stroke-linecap="round"/></g><g transform="translate(2333.8 1079) rotate(20)"><text x="2.6 26 46.2 70.6 86.8 108 130.3" y="25.5" font-family="Liberation Serif" font-size="37.5" fill="#b0b9b0" fill-opacity="0.4">Cobioer</text><path transform="translate(167.6 -7.4) scale(0.4)" d="M30 8 L12 18 M4 34 L44 34 M24 18 L24 96 M24 40 L6 72 M26 44 L42 60 M58 18 L68 28 M56 40 L66 50 M50 66 L96 58 M78 8 L78 96" fill="none" stroke="#b0b9b0" stroke-opacity="0.47" stroke-width="3.4" stroke-linecap="round"/><path transform="translate(208.2 -7.4) scale(0.4)" d="M26 6 L6 44 M16 30 L16 96 M38 14 L96 14 M66 14 L58 28 M44 30 L44 94 M44 30 L88 30 L88 94 M44 60 L88 60 M44 90 L88 90" fill="none" stroke="#b0b9b0" stroke-opacity="0.47" stroke-width="3.4" stroke-linecap="round"/><path transform="translate(248.8 -7.4) scale(0.4)" d="M26 8 L8 46 M22 30 L88 30 M50 6 L50 90 M14 58 L84 58 M4 90 L96 90" fill="none" stroke="#b0b9b0" stroke-opacity="0.47" stroke-width="3.4" stroke-linecap="round"/><path transform="translate(289.4 -7.4) scale(0.4)" d="M14 10 L6 34 M8 30 L40 30 M24 6 L24 96 M4 64 L42 50 M58 8 L48 34 M52 26 L94 26 Q92 84 80 92 L72 88 M66 30 L52 70 M80 32 L60 84" fill="none" stroke="#b0b9b0" stroke-opacity="0.47" stroke-width="3.4" stroke-linecap="round"/></g>
</svg>
</body></html>
